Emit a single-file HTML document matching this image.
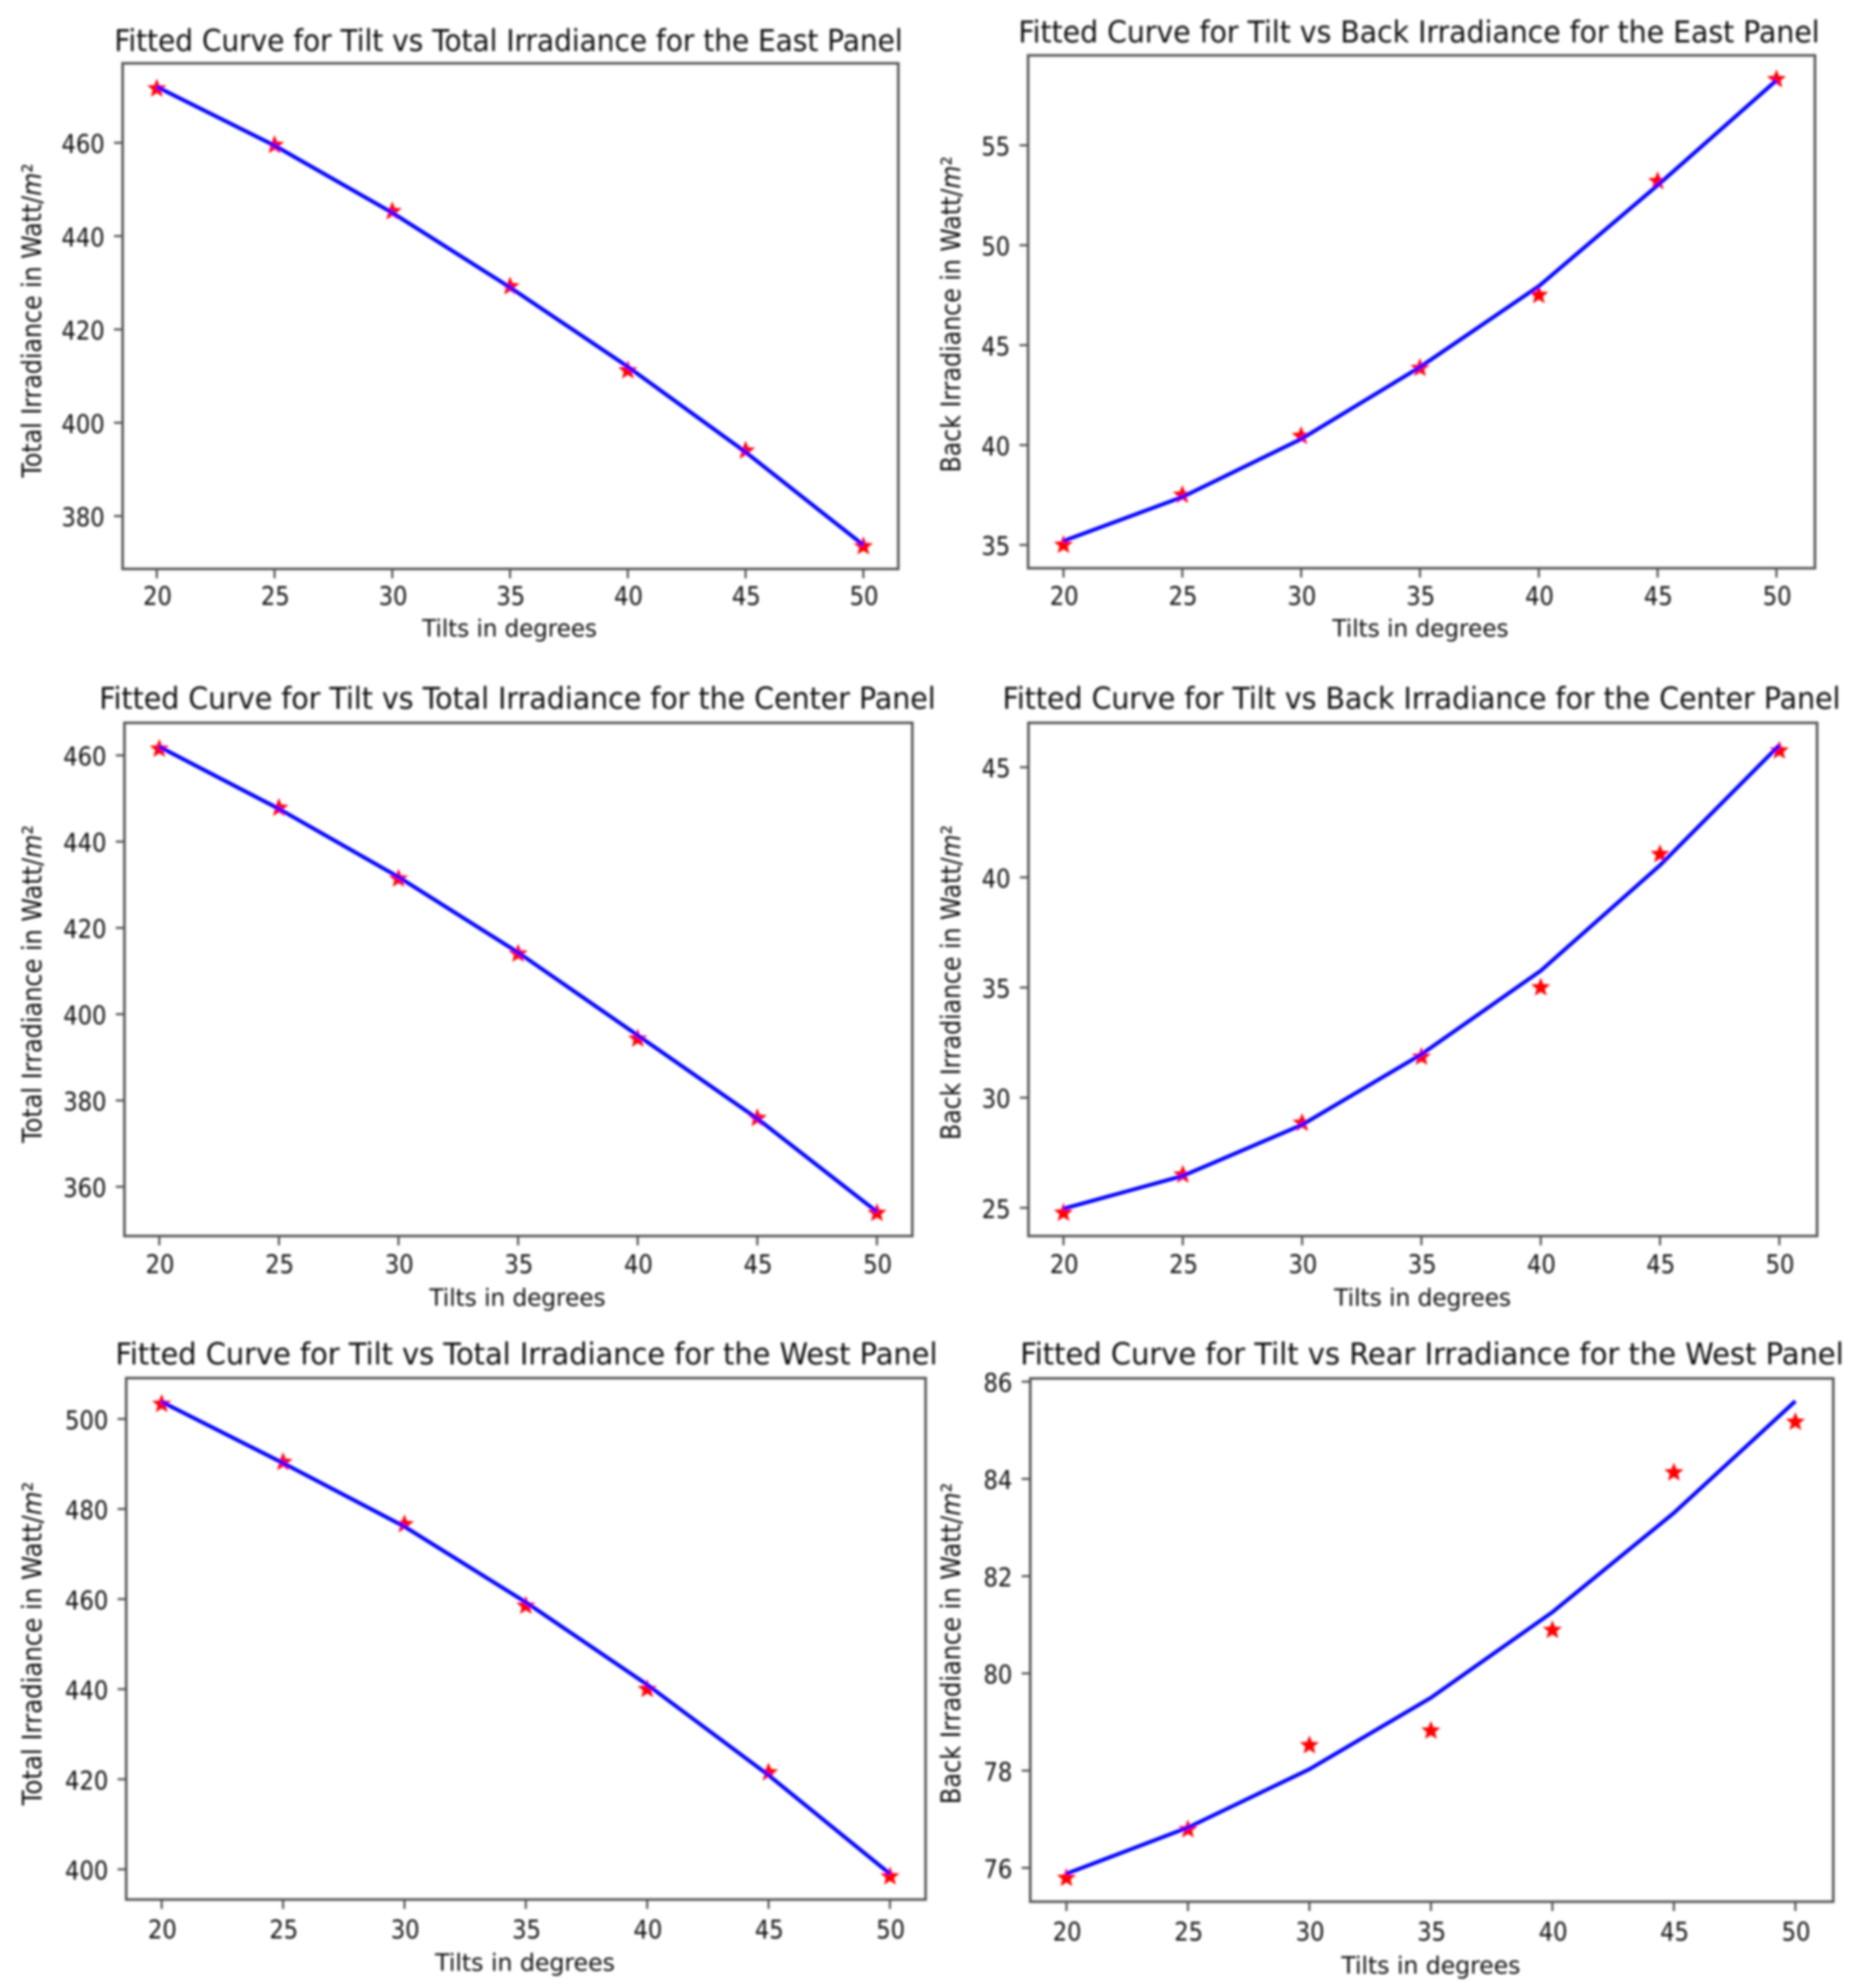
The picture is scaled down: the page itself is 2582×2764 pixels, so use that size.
<!DOCTYPE html>
<html lang="en">
<head>
<meta charset="utf-8">
<title>Fitted Curves for Tilt vs Irradiance</title>
<style>
  html, body { margin: 0; padding: 0; background: #fff; }
  svg { display: block; }
  text { font-family: "DejaVu Sans", "Liberation Sans", sans-serif; fill: #111; }
  .title { font-size: 42px; }
  .axis-label { font-size: 33px; }
  .y-label { font-size: 37px; }
  .tick-label { font-size: 36px; }
  .frame { fill: none; stroke: #555; stroke-width: 3.6; }
</style>
</head>
<body>
<svg id="figure" xmlns="http://www.w3.org/2000/svg" width="2582" height="2764" viewBox="0 0 2582 2764">
  <defs>
    <filter id="soften" filterUnits="userSpaceOnUse" x="0" y="0" width="2582" height="2764">
      <feGaussianBlur stdDeviation="1.6"/>
    </filter>
  </defs>
  <rect width="2582" height="2764" fill="#fff"/>
  <g filter="url(#soften)">
    <g id="east-total">
      <rect class="frame" x="170.5" y="88" width="1078.5" height="703"/>
      <text class="title" x="159" y="71" textLength="1096" lengthAdjust="spacingAndGlyphs">Fitted Curve for Tilt vs Total Irradiance for the East Panel</text>
      <text class="axis-label" x="587" y="885" textLength="243" lengthAdjust="spacingAndGlyphs">Tilts in degrees</text>
      <text class="y-label" transform="translate(57 664) rotate(-90)" textLength="437" lengthAdjust="spacingAndGlyphs">Total Irradiance  in  Watt/<tspan font-style="italic">m</tspan>²</text>
    </g>
    <g id="east-back">
      <rect class="frame" x="1429.5" y="77" width="1094" height="713"/>
      <text class="title" x="1416" y="59" textLength="1114" lengthAdjust="spacingAndGlyphs">Fitted Curve for Tilt vs Back Irradiance for the East Panel</text>
      <text class="axis-label" x="1852.5" y="885" textLength="245" lengthAdjust="spacingAndGlyphs">Tilts in degrees</text>
      <text class="y-label" transform="translate(1335 657) rotate(-90)" textLength="440" lengthAdjust="spacingAndGlyphs">Back Irradiance  in  Watt/<tspan font-style="italic">m</tspan>²</text>
    </g>
    <g id="center-total">
      <rect class="frame" x="173" y="1005" width="1095.5" height="713.5"/>
      <text class="title" x="138" y="985.5" textLength="1163" lengthAdjust="spacingAndGlyphs">Fitted Curve for Tilt vs Total Irradiance for the Center Panel</text>
      <text class="axis-label" x="597" y="1815.5" textLength="245" lengthAdjust="spacingAndGlyphs">Tilts in degrees</text>
      <text class="y-label" transform="translate(57.5 1589) rotate(-90)" textLength="442" lengthAdjust="spacingAndGlyphs">Total Irradiance  in  Watt/<tspan font-style="italic">m</tspan>²</text>
    </g>
    <g id="center-back">
      <rect class="frame" x="1430" y="1005" width="1096.5" height="713.5"/>
      <text class="title" x="1394" y="985.5" textLength="1165" lengthAdjust="spacingAndGlyphs">Fitted Curve for Tilt vs Back Irradiance for the Center Panel</text>
      <text class="axis-label" x="1855" y="1815.5" textLength="246" lengthAdjust="spacingAndGlyphs">Tilts in degrees</text>
      <text class="y-label" transform="translate(1335 1585) rotate(-90)" textLength="438" lengthAdjust="spacingAndGlyphs">Back Irradiance  in  Watt/<tspan font-style="italic">m</tspan>²</text>
    </g>
    <g id="west-total">
      <rect class="frame" x="175.5" y="1916" width="1111.5" height="725"/>
      <text class="title" x="160.5" y="1897" textLength="1143" lengthAdjust="spacingAndGlyphs">Fitted Curve for Tilt vs Total Irradiance for the West Panel</text>
      <text class="axis-label" x="605" y="2740" textLength="250" lengthAdjust="spacingAndGlyphs">Tilts in degrees</text>
      <text class="y-label" transform="translate(57.5 2510) rotate(-90)" textLength="450" lengthAdjust="spacingAndGlyphs">Total Irradiance  in  Watt/<tspan font-style="italic">m</tspan>²</text>
    </g>
    <g id="west-rear">
      <rect class="frame" x="1432.5" y="1916.5" width="1116.5" height="727.5"/>
      <text class="title" x="1418.5" y="1897" textLength="1145" lengthAdjust="spacingAndGlyphs">Fitted Curve for Tilt vs Rear Irradiance for the West Panel</text>
      <text class="axis-label" x="1865" y="2744" textLength="249" lengthAdjust="spacingAndGlyphs">Tilts in degrees</text>
      <text class="y-label" transform="translate(1335 2508.5) rotate(-90)" textLength="447" lengthAdjust="spacingAndGlyphs">Back Irradiance  in  Watt/<tspan font-style="italic">m</tspan>²</text>
    </g>
  </g>
</svg>
<script>
const tilts = [20, 25, 30, 35, 40, 45, 50];

const eastTotalMeasured = [471.6, 459.5, 445.3, 429.2, 411.2, 394.0, 373.5];
const eastTotalFitted = [472.0, 459.4, 445.0, 429.0, 412.0, 393.7, 373.8];
const eastTotalTicks = [380, 400, 420, 440, 460];

const eastBackMeasured = [35.0, 37.5, 40.45, 43.85, 47.5, 53.2, 58.3];
const eastBackFitted = [35.2, 37.4, 40.3, 43.9, 47.95, 53.0, 58.25];
const eastBackTicks = [35, 40, 45, 50, 55];

const centerTotalMeasured = [461.5, 447.8, 431.4, 414.0, 394.3, 375.9, 353.9];
const centerTotalFitted = [462.0, 447.6, 431.8, 414.3, 395.1, 375.8, 354.2];
const centerTotalTicks = [360, 380, 400, 420, 440, 460];

const centerBackMeasured = [24.77, 26.5, 28.85, 31.85, 35.0, 41.05, 45.75];
const centerBackFitted = [24.96, 26.45, 28.77, 31.97, 35.76, 40.55, 46.0];
const centerBackTicks = [25, 30, 35, 40, 45];

const westTotalMeasured = [503.3, 490.4, 476.6, 458.5, 440.0, 421.5, 398.4];
const westTotalFitted = [503.8, 490.2, 476.1, 459.3, 441.0, 420.9, 399.0];
const westTotalTicks = [400, 420, 440, 460, 480, 500];

const westRearMeasured = [75.79, 76.79, 78.52, 78.82, 80.89, 84.13, 85.17];
const westRearFitted = [75.88, 76.83, 78.03, 79.5, 81.26, 83.3, 85.6];
const westRearTicks = [76, 78, 80, 82, 84, 86];

const SVG_NS = 'http://www.w3.org/2000/svg';

const panels = [
  { id: 'east-total', measured: eastTotalMeasured, fitted: eastTotalFitted, ticks: eastTotalTicks,
    xStart: 218, xEnd: 1200.4, yLowValue: 380, yLowPx: 717.5, yHighValue: 460, yHighPx: 198.5,
    left: 170.5, bottom: 791, tickBaseline: 841 },
  { id: 'east-back', measured: eastBackMeasured, fitted: eastBackFitted, ticks: eastBackTicks,
    xStart: 1478.7, xEnd: 2470, yLowValue: 35, yLowPx: 757.7, yHighValue: 55, yHighPx: 202,
    left: 1429.5, bottom: 790, tickBaseline: 841 },
  { id: 'center-total', measured: centerTotalMeasured, fitted: centerTotalFitted, ticks: centerTotalTicks,
    xStart: 221.5, xEnd: 1219.3, yLowValue: 360, yLowPx: 1650, yHighValue: 460, yHighPx: 1050.2,
    left: 173, bottom: 1718.5, tickBaseline: 1770 },
  { id: 'center-back', measured: centerBackMeasured, fitted: centerBackFitted, ticks: centerBackTicks,
    xStart: 1478.7, xEnd: 2474, yLowValue: 25, yLowPx: 1679.3, yHighValue: 45, yHighPx: 1066.7,
    left: 1430, bottom: 1718.5, tickBaseline: 1770 },
  { id: 'west-total', measured: westTotalMeasured, fitted: westTotalFitted, ticks: westTotalTicks,
    xStart: 224.8, xEnd: 1237.4, yLowValue: 400, yLowPx: 2599, yHighValue: 500, yHighPx: 1972.8,
    left: 175.5, bottom: 2641, tickBaseline: 2695 },
  { id: 'west-rear', measured: westRearMeasured, fitted: westRearFitted, ticks: westRearTicks,
    xStart: 1482.8, xEnd: 2496.3, yLowValue: 76, yLowPx: 2597, yHighValue: 86, yHighPx: 1921,
    left: 1432.5, bottom: 2644, tickBaseline: 2698 }
];

function starPoints(cx, cy, outer, inner) {
  const pts = [];
  for (let i = 0; i < 10; i++) {
    const r = i % 2 === 0 ? outer : inner;
    const a = -Math.PI / 2 + i * Math.PI / 5;
    pts.push((cx + r * Math.cos(a)).toFixed(2) + ',' + (cy + r * Math.sin(a)).toFixed(2));
  }
  return pts.join(' ');
}

function drawPanel(p) {
  const group = document.getElementById(p.id);
  const first = tilts[0];
  const last = tilts[tilts.length - 1];
  const xScale = v => p.xStart + (v - first) / (last - first) * (p.xEnd - p.xStart);
  const yScale = v => p.yLowPx + (v - p.yLowValue) / (p.yHighValue - p.yLowValue) * (p.yHighPx - p.yLowPx);

  tilts.forEach(t => {
    const tick = document.createElementNS(SVG_NS, 'line');
    
    
    tick.setAttribute('x1', xScale(t));
    tick.setAttribute('x2', xScale(t));
    tick.setAttribute('y1', p.bottom);
    tick.setAttribute('y2', p.bottom + 13);
    tick.setAttribute('stroke', '#555');
    tick.setAttribute('stroke-width', '3');
    group.appendChild(tick);

    const label = document.createElementNS(SVG_NS, 'text');
    
    
    label.setAttribute('class', 'tick-label');
    label.setAttribute('x', xScale(t) + 1 - 20);
    label.setAttribute('y', p.tickBaseline);
    label.setAttribute('textLength', '40');
    label.setAttribute('lengthAdjust', 'spacingAndGlyphs');
    label.textContent = String(t);
    group.appendChild(label);
  });

  p.ticks.forEach(v => {
    const tick = document.createElementNS(SVG_NS, 'line');
    
    
    tick.setAttribute('x1', p.left - 12);
    tick.setAttribute('x2', p.left);
    tick.setAttribute('y1', yScale(v));
    tick.setAttribute('y2', yScale(v));
    tick.setAttribute('stroke', '#555');
    tick.setAttribute('stroke-width', '3');
    group.appendChild(tick);

    const text = String(v);
    const width = text.length * 20;
    const label = document.createElementNS(SVG_NS, 'text');
    
    
    label.setAttribute('class', 'tick-label');
    label.setAttribute('x', p.left - 25 - width);
    label.setAttribute('y', yScale(v) + 14);
    label.setAttribute('textLength', width);
    label.setAttribute('lengthAdjust', 'spacingAndGlyphs');
    label.textContent = text;
    group.appendChild(label);
  });

  p.measured.forEach((v, i) => {
    const star = document.createElementNS(SVG_NS, 'polygon');
    
    
    star.setAttribute('points', starPoints(xScale(tilts[i]), yScale(v), 14, 6));
    star.setAttribute('fill', '#ff0000');
    group.appendChild(star);
  });

  const curve = document.createElementNS(SVG_NS, 'polyline');
  
  
  curve.setAttribute('points', p.fitted.map((v, i) => xScale(tilts[i]).toFixed(2) + ',' + yScale(v).toFixed(2)).join(' '));
  curve.setAttribute('fill', 'none');
  curve.setAttribute('stroke', '#0000ff');
  curve.setAttribute('stroke-width', '5.4');
  curve.setAttribute('stroke-linejoin', 'round');
  group.appendChild(curve);
}

panels.forEach(drawPanel);
</script>
</body>
</html>
